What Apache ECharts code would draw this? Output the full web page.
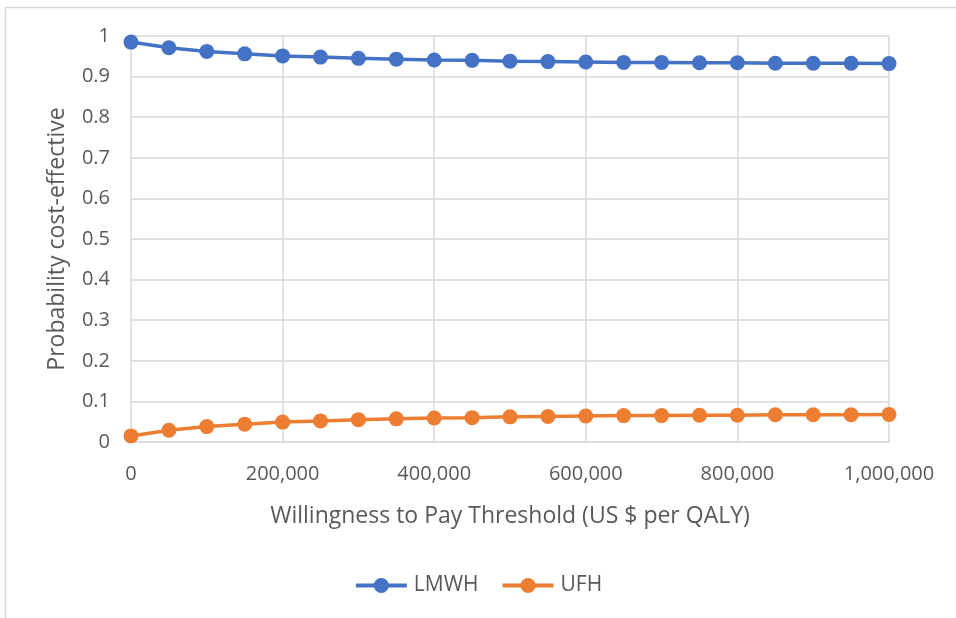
<!DOCTYPE html>
<html>
<head>
<meta charset="utf-8">
<script src="https://cdn.jsdelivr.net/npm/echarts@6/dist/echarts.min.js"></script>
<style>
  html, body { margin: 0; padding: 0; background: #fff; }
  #chart { width: 956px; height: 618px; }
</style>
</head>
<body>
<div id="chart"></div>
<script>
// Willingness-to-pay thresholds (US $ per QALY)
const thresholds = [0, 50000, 100000, 150000, 200000, 250000, 300000, 350000, 400000, 450000,
  500000, 550000, 600000, 650000, 700000, 750000, 800000, 850000, 900000, 950000, 1000000];
// Probability that each strategy is cost-effective
const lmwh = [0.985, 0.971, 0.962, 0.956, 0.951, 0.948, 0.945, 0.943, 0.941, 0.940,
  0.938, 0.937, 0.936, 0.935, 0.935, 0.934, 0.934, 0.933, 0.933, 0.933, 0.932];
const ufh = [0.015, 0.029, 0.038, 0.044, 0.049, 0.052, 0.055, 0.057, 0.059, 0.060,
  0.062, 0.063, 0.064, 0.065, 0.065, 0.066, 0.066, 0.067, 0.067, 0.067, 0.068];
const seriesNames = ['LMWH', 'UFH'];
const seriesColors = ['#4472C4', '#ED7D31'];

const font = '"Open Sans", "Liberation Sans", sans-serif';
const textColor = '#595959';
const gridColor = '#d9d9d9';

const pairs = (ys) => thresholds.map((x, i) => [x, ys[i]]);

const chart = echarts.init(document.getElementById('chart'), null, { renderer: 'canvas' });
chart.setOption({
  backgroundColor: '#ffffff',
  animation: false,
  graphic: [{
    type: 'rect',
    shape: { x: 5.5, y: 7.5, width: 1000, height: 700 },
    style: { fill: 'none', stroke: gridColor, lineWidth: 1.5 },
    silent: true
  }],
  grid: { left: 131, right: 67, top: 36, bottom: 176, containLabel: false },
  legend: {
    data: seriesNames,
    bottom: 17,
    left: 'center',
    itemWidth: 51,
    itemHeight: 19,
    itemGap: 22,
    lineStyle: { width: 4 },
    textStyle: { fontFamily: font, fontSize: 21, color: textColor, padding: [0, 0, 0, 2] }
  },
  xAxis: {
    type: 'value',
    min: 0,
    max: 1000000,
    interval: 200000,
    name: 'Willingness to Pay Threshold (US $ per QALY)',
    nameLocation: 'middle',
    nameGap: 63,
    nameTextStyle: { fontFamily: font, fontSize: 23, color: textColor },
    axisLine: { show: true, lineStyle: { color: gridColor, width: 1.5 } },
    axisTick: { show: false },
    axisLabel: {
      fontFamily: font, fontSize: 20, color: textColor, margin: 22,
      formatter: (v) => v.toLocaleString('en-US')
    },
    splitLine: { show: true, lineStyle: { color: gridColor, width: 1.5 } }
  },
  yAxis: {
    type: 'value',
    min: 0,
    max: 1,
    interval: 0.1,
    name: 'Probability cost-effective',
    nameLocation: 'middle',
    nameGap: 62,
    nameRotate: 90,
    nameTextStyle: { fontFamily: font, fontSize: 23, color: textColor },
    axisLine: { show: false },
    axisTick: { show: false },
    axisLabel: {
      fontFamily: font, fontSize: 20, color: textColor, margin: 21,
      formatter: (v) => String(Math.round(v * 10) / 10)
    },
    splitLine: { show: true, lineStyle: { color: gridColor, width: 1.5 } }
  },
  series: [lmwh, ufh].map((ys, i) => ({
    name: seriesNames[i],
    type: 'line',
    data: pairs(ys),
    symbol: 'circle',
    symbolSize: 15,
    color: seriesColors[i],
    lineStyle: { width: 3.5, color: seriesColors[i] },
    itemStyle: { color: seriesColors[i] },
    clip: false
  }))
});
</script>
</body>
</html>
